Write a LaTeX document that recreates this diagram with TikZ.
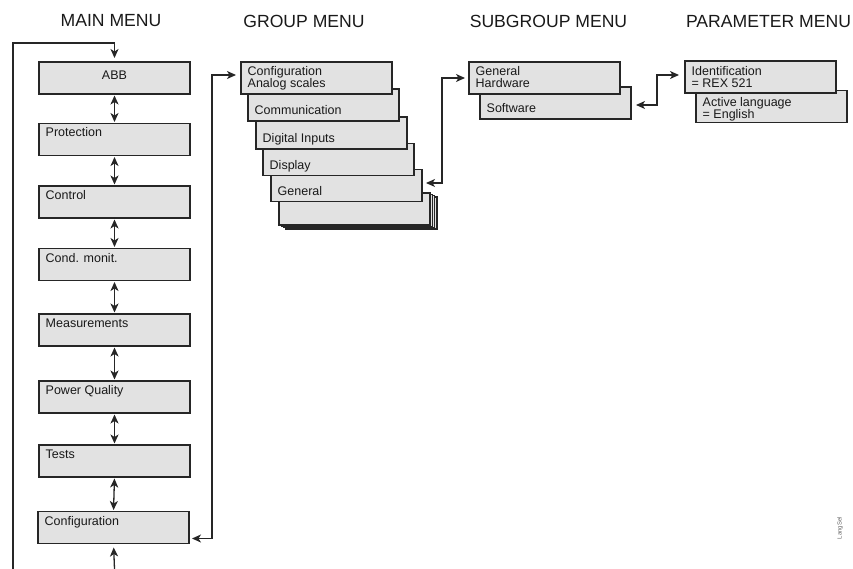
\documentclass[tikz,border=0pt]{standalone}
\usepackage{fontspec}
\setmainfont{Liberation Sans}
\usetikzlibrary{arrows.meta}

\definecolor{boxfill}{HTML}{E2E2E2}
\definecolor{boxline}{HTML}{262626}

\tikzset{
  menubox/.style={draw=boxline, fill=boxfill, line width=1.4pt, anchor=north west,
    minimum width=151pt, minimum height=32pt, inner sep=0pt, outer sep=0pt},
  boxtext/.style={anchor=base west, inner sep=0pt, align=left,
    font=\fontsize{12.5}{12}\selectfont, text=black!90},
  title/.style={anchor=base, inner sep=0pt, font=\fontsize{17.6}{18}\selectfont, text=black!90},
  link/.style={draw=boxline, line width=1.3pt},
  arr/.style={link, -{Stealth[length=9pt,width=8pt,inset=2.5pt]}},
  darr/.style={link, {Stealth[length=9pt,width=8pt,inset=2.5pt]}-{Stealth[length=9pt,width=8pt,inset=2.5pt]}},
}

% label inside a box: #3 = drop of the (last) baseline below the top edge
\newcommand{\boxlabel}[4]{\node[boxtext] (#1) at ([xshift=6.5pt,yshift=-#3pt]#2.north west) {#4};}

\begin{document}
\begin{tikzpicture}[x=1pt,y=-1pt]
  \useasboundingbox (0,0) rectangle (853,569);

  % column headings
  \node[title] (tmain) at (111,27) {MAIN MENU};
  \node[title] (tgroup) at (304,27.5) {GROUP MENU};
  \node[title] (tsub) at (548.5,27.5) {SUBGROUP MENU};
  \node[title] (tpar) at (768.5,27.5) {PARAMETER MENU};

  % main menu column
  \node[menubox] (m1) at (39,62) {};
  \node[boxtext, anchor=base] (m1t) at ([yshift=-18pt]m1.north) {ABB};
  \node[menubox] (m2) at (39,123.5) {};  \boxlabel{m2t}{m2}{13.5}{Protection}
  \node[menubox] (m3) at (39,186) {};    \boxlabel{m3t}{m3}{13.5}{Control}
  \node[menubox] (m4) at (39,248.5) {};  \boxlabel{m4t}{m4}{13.5}{Cond. monit.}
  \node[menubox] (m5) at (39,314) {};    \boxlabel{m5t}{m5}{13.5}{Measurements}
  \node[menubox] (m6) at (39,381) {};    \boxlabel{m6t}{m6}{13.5}{Power Quality}
  \node[menubox] (m7) at (39,445) {};    \boxlabel{m7t}{m7}{13.5}{Tests}
  \node[menubox] (m8) at (38,511.5) {};  \boxlabel{m8t}{m8}{13.5}{Configuration}

  \foreach \a/\b in {m1/m2,m2/m3,m3/m4,m4/m5,m5/m6,m6/m7,m7/m8}
    \draw[darr, shorten <=1.5pt, shorten >=1.5pt] (\a.south) -- (\b.north);

  % wrap-around loop on the left
  \coordinate (loopL) at (13,569);
  \coordinate (loopB) at (114.5,569);
  \draw[arr, shorten >=4pt] (loopL) -- (13,43) -| (m1.north);
  \draw[arr, shorten >=4pt] (loopB) -- (m8.south);

  % group menu stack (drawn back to front)
  \foreach \d in {7,4.7,2.4}
    \node[menubox] at (279+\d,193+\d*0.55) {};
  \node[menubox] (g6) at (279,193) {};
  \node[menubox] (g5) at (271,169.5) {};  \boxlabel{g5t}{g5}{26}{General}
  \node[menubox] (g4) at (263,143.5) {};  \boxlabel{g4t}{g4}{26.5}{Display}
  \node[menubox] (g3) at (256,117) {};    \boxlabel{g3t}{g3}{25.5}{Digital Inputs}
  \node[menubox] (g2) at (248,89) {};     \boxlabel{g2t}{g2}{26}{Communication}
  \node[menubox] (g1) at (241,62) {};     \boxlabel{g1t}{g1}{25.5}{Configuration\\Analog scales}

  % subgroup menu
  \node[menubox] (s2) at (480,87) {};  \boxlabel{s2t}{s2}{26}{Software}
  \node[menubox] (s1) at (469,62) {};  \boxlabel{s1t}{s1}{25.5}{General\\Hardware}

  % parameter menu
  \node[menubox] (p2) at (696,90.5) {}; \boxlabel{p2t}{p2}{28.5}{Active language\\= English}
  \node[menubox] (p1) at (685,61) {};   \boxlabel{p1t}{p1}{26.5}{Identification\\= REX 521}

  % links between the levels
  \draw[darr, shorten <=3pt, shorten >=5pt] ([yshift=-11pt]m8.east) -- (212,538.5) |- ([yshift=3pt]g1.west);
  \draw[darr, shorten <=4pt, shorten >=4pt] ([yshift=2.5pt]g5.east) -- (442,183) |- (s1.west);
  \draw[darr, shorten <=5pt, shorten >=6pt] ([yshift=-2pt]s2.east) -- (657,105) |- ([yshift=2pt]p1.west);

  % drawing reference
  \node[rotate=90, inner sep=0pt, font=\fontsize{6}{6}\selectfont, text=black!60] (ref) at (840,528) {LangSel};
\end{tikzpicture}
\end{document}
